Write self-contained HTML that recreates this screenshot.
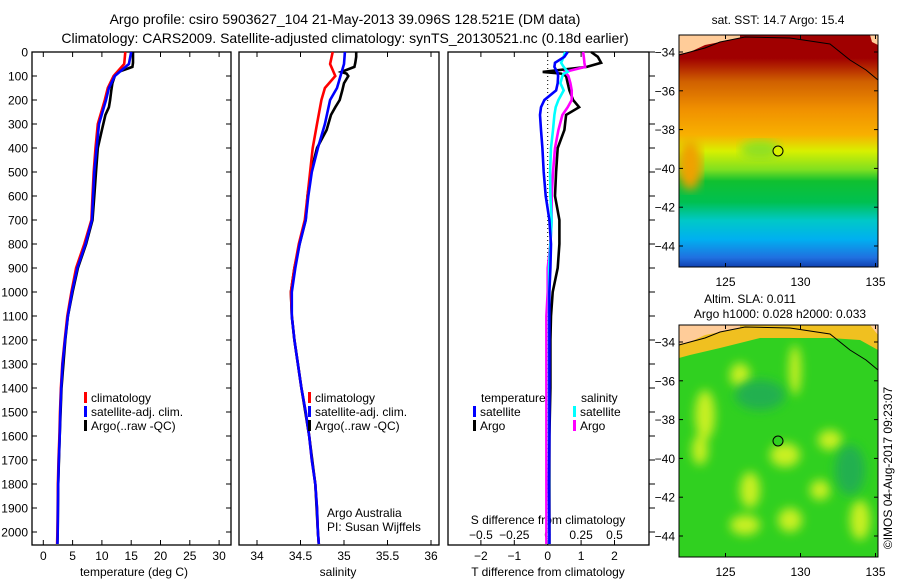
<!DOCTYPE html>
<html><head><meta charset="utf-8">
<style>
html,body{margin:0;padding:0;background:#fff;}
svg{display:block;font-family:"Liberation Sans","DejaVu Sans",sans-serif;}
</style></head>
<body>
<svg id="fig" width="900" height="580" viewBox="0 0 900 580" xmlns="http://www.w3.org/2000/svg">
<defs>
<linearGradient id="sstGrad" x1="0" y1="0" x2="0" y2="1">
<stop offset="0" stop-color="#a00000"/><stop offset="0.1" stop-color="#a00000"/>
<stop offset="0.2" stop-color="#d06000"/><stop offset="0.32" stop-color="#f09000"/>
<stop offset="0.43" stop-color="#f8b000"/><stop offset="0.5" stop-color="#d8f000"/>
<stop offset="0.58" stop-color="#80e020"/><stop offset="0.63" stop-color="#10c030"/>
<stop offset="0.72" stop-color="#00c050"/><stop offset="0.8" stop-color="#00c8c8"/>
<stop offset="0.88" stop-color="#00b0f0"/><stop offset="0.96" stop-color="#2070e0"/>
<stop offset="1" stop-color="#1040b0"/>
</linearGradient>
<filter id="blur"><feGaussianBlur stdDeviation="5"/></filter>
<clipPath id="clipA"><rect x="679" y="35" width="199" height="232"/></clipPath>
<clipPath id="clipB"><rect x="679" y="325" width="199" height="232"/></clipPath>
</defs>

<text x="345" y="24" font-size="14" text-anchor="middle">Argo profile: csiro 5903627_104 21-May-2013 39.096S 128.521E (DM data)</text>
<text x="345" y="43" font-size="14" text-anchor="middle">Climatology: CARS2009. Satellite-adjusted climatology: synTS_20130521.nc (0.18d earlier)</text>

<g>
<text x="778" y="24" font-size="12" text-anchor="middle">sat. SST: 14.7 Argo: 15.4</text>
<g clip-path="url(#clipA)">
<rect x="679" y="35" width="199" height="232" fill="url(#sstGrad)"/>
<ellipse cx="690" cy="165" rx="12" ry="25" fill="#f0a000" filter="url(#blur)"/>
<ellipse cx="760" cy="150" rx="20" ry="10" fill="#90e020" filter="url(#blur)"/>
<path d="M679,35 L740,35 L740,38 L705,45 L690,52 L679,54 Z" fill="#ffcc99"/>
<path d="M870,35 L878,35 L878,45 L872,42 Z" fill="#ffcc99"/>
<path d="M679,55 L690,52 L705,48 L720,42 L745,37 L790,38 L830,44 L850,60 L866,70 L878,80" fill="none" stroke="#000" stroke-width="1"/>
</g>
<rect x="679" y="35" width="199" height="232" fill="none" stroke="#000"/>
<circle cx="778" cy="151" r="5" fill="#d8f000" stroke="#000"/>
</g>

<g>
<text x="750" y="303" font-size="12" text-anchor="middle">Altim. SLA: 0.011</text>
<text x="780" y="318" font-size="12" text-anchor="middle">Argo h1000: 0.028 h2000: 0.033</text>
<g clip-path="url(#clipB)">
<rect x="679" y="325" width="199" height="232" fill="#30d020"/>
<g filter="url(#blur)" fill="#c8f020">
<ellipse cx="740" cy="375" rx="10" ry="12"/><ellipse cx="705" cy="415" rx="10" ry="25"/>
<ellipse cx="700" cy="450" rx="8" ry="15"/><ellipse cx="785" cy="455" rx="15" ry="12"/>
<ellipse cx="830" cy="440" rx="12" ry="10"/><ellipse cx="750" cy="490" rx="10" ry="18"/>
<ellipse cx="820" cy="490" rx="10" ry="10"/><ellipse cx="790" cy="520" rx="12" ry="12"/>
<ellipse cx="745" cy="525" rx="15" ry="10"/><ellipse cx="860" cy="520" rx="10" ry="20"/>
<ellipse cx="795" cy="370" rx="6" ry="25"/>
</g>
<g filter="url(#blur)" fill="#20b050"><ellipse cx="760" cy="395" rx="25" ry="15"/><ellipse cx="850" cy="470" rx="15" ry="25"/></g>
<path d="M679,325 L878,325 L878,350 L860,340 L830,338 L760,338 L720,348 L690,355 L679,358 Z" fill="#f0c020"/>
<path d="M679,325 L740,325 L740,328 L705,335 L690,342 L679,344 Z" fill="#ffcc99"/>
<path d="M870,325 L878,325 L878,335 Z" fill="#ffcc99"/>
<path d="M679,345 L690,342 L705,338 L720,332 L745,327 L790,328 L830,334 L850,350 L866,360 L878,370" fill="none" stroke="#000" stroke-width="1"/>
</g>
<rect x="679" y="325" width="199" height="232" fill="none" stroke="#000"/>
<circle cx="778" cy="441" r="5" fill="#30d020" stroke="#000"/>
</g>
<text x="0" y="0" font-size="12" text-anchor="middle" transform="translate(892,468) rotate(-90)">©IMOS 04-Aug-2017 09:23:07</text>

<g id="plots"></g>
</svg>
<script>
// ---- data ----
const climDepths = [0,50,100,150,200,300,400,500,600,700,800,900,1000,1100,1200,1300,1400,1500,1600,1700,1800,1900,2000,2050];
const climT = [14.0,13.8,12.0,11.0,10.5,9.3,8.9,8.6,8.4,8.2,7.0,5.6,4.8,4.1,3.65,3.25,3.0,2.85,2.75,2.6,2.5,2.45,2.4,2.35];
const satT = [15.0,14.6,12.2,11.2,10.7,9.5,9.1,8.7,8.5,8.3,7.2,5.8,4.9,4.2,3.7,3.3,3.05,2.9,2.8,2.65,2.55,2.5,2.45,2.4];
const climS = [34.87,34.84,34.9,34.78,34.74,34.69,34.64,34.61,34.58,34.55,34.48,34.43,34.39,34.40,34.43,34.47,34.51,34.56,34.60,34.63,34.67,34.69,34.70,34.71];
const satS = [35.01,35.0,34.96,34.92,34.84,34.78,34.70,34.63,34.59,34.56,34.49,34.44,34.40,34.40,34.43,34.47,34.51,34.56,34.60,34.63,34.67,34.69,34.70,34.71];
const argoDepths = [0,20,45,62,83,90,100,130,160,200,230,262,325,400,500,600,700,800,900,1000,1100,1200,1400,1600,1800,2000,2050];
const argoT = [15.3,15.3,15.3,15.2,12.8,12.4,12.2,11.8,11.6,11.4,11.2,10.6,10.0,9.3,9.0,8.7,8.4,7.3,5.9,5.0,4.2,3.75,3.1,2.8,2.55,2.45,2.4];
const argoS = [35.14,35.14,35.13,35.12,34.97,35.03,35.05,35.0,34.98,34.95,34.9,34.85,34.8,34.69,34.62,34.58,34.56,34.49,34.43,34.39,34.40,34.43,34.51,34.6,34.67,34.70,34.71];
const dTsat = [0.6,0.5,0.22,0.2,0.28,0.3,0.31,0.3,0.25,-0.1,-0.2,-0.23,-0.2,-0.16,-0.12,-0.06,0.05,0.1,0.08,0.05,0.05,0.05,0.05,0.05,0.04,0.05,0.05];
const dTargo = [1.3,1.5,1.6,1.17,-0.15,0.4,0.55,0.6,0.65,0.76,0.94,0.55,0.5,0.3,0.25,0.22,0.35,0.35,0.3,0.15,0.1,0.08,0.08,0.05,0.05,0.05,0.05];
const dSsat = [0.13,0.12,0.1,0.12,0.15,0.12,0.11,0.095,0.12,0.08,0.06,0.05,0.04,0.025,0.018,0.02,0.03,0.02,0.01,0.01,0.01,0.01,0.01,0.01,0.01,0.01,0.01];
const dSargo = [0.265,0.27,0.275,0.28,0.13,0.14,0.155,0.17,0.18,0.18,0.15,0.11,0.08,0.055,0.04,0.03,0.03,0.02,0.0,0.0,-0.01,-0.01,-0.01,-0.01,-0.01,-0.01,-0.01];
const depthTicks = [0,100,200,300,400,500,600,700,800,900,1000,1100,1200,1300,1400,1500,1600,1700,1800,1900,2000];
const tempTicks = [0,5,10,15,20,25,30];
const salTicks = [34,34.5,35,35.5,36];
const salTickLabels = ["34","34.5","35","35.5","36"];
const dTTicks = [-2,-1,0,1,2];
const dSTicks = [-0.5,-0.25,0,0.25,0.5];
const dSTickLabels = ["-0.5","-0.25","0","0.25","0.5"];

// ---- axes ----
const NS='http://www.w3.org/2000/svg';
const Y0=52, Y1=545;
const yD = d => 52 + d*0.24;
const xT = t => 43.3 + t*5.86;
const xS = s => 257 + (s-34)*87;
const xDT = v => 547.7 + v*33.4;
const xDS = v => 547.7 + v*133.6;
const root=document.getElementById('plots');
function mk(tag, attrs, parent){const e=document.createElementNS(NS,tag);for(const k in attrs)e.setAttribute(k,attrs[k]);(parent||root).appendChild(e);return e;}
function txt(s,x,y,size,anchor,name){const e=mk('text',{x:x,y:y,'font-size':size,'text-anchor':anchor||'start'});e.textContent=s;


return e;}
function line(depths, vals, fx, color, name){
  const pts=depths.map((d,i)=>fx(vals[i]).toFixed(1)+','+yD(d).toFixed(1)).join(' ');
  const e=mk('polyline',{points:pts,fill:'none',stroke:color,'stroke-width':2.6,'stroke-linejoin':'miter'});
  
  
}
function frame(x0,x1,name){
  const r=mk('rect',{x:x0,y:Y0,width:x1-x0,height:Y1-Y0,fill:'none',stroke:'#000','stroke-width':1.3});
  
  
}
// panel frames
frame(32,231,'temperature-panel');
frame(239,439,'salinity-panel');
frame(448,649,'difference-panel');
// depth ticks
depthTicks.forEach(d=>{
  const y=yD(d);
  mk('line',{x1:32,x2:37,y1:y,y2:y,stroke:'#000'});
  mk('line',{x1:226,x2:231,y1:y,y2:y,stroke:'#000'});
  mk('line',{x1:649,x2:655,y1:y,y2:y,stroke:'#000'});
  txt(String(d),28,y+4.5,12,'end','depth-tick-label');
});
// temp ticks
tempTicks.forEach(t=>{
  const x=xT(t);
  mk('line',{x1:x,x2:x,y1:Y0,y2:Y0+5,stroke:'#000'});
  mk('line',{x1:x,x2:x,y1:Y1,y2:Y1-5,stroke:'#000'});
  txt(String(t),x,560,12,'middle','temperature-tick-label');
});
txt('temperature (deg C)',134,576,12,'middle','temperature-axis-title');
salTicks.forEach((s,i)=>{
  const x=xS(s);
  mk('line',{x1:x,x2:x,y1:Y0,y2:Y0+5,stroke:'#000'});
  mk('line',{x1:x,x2:x,y1:Y1,y2:Y1-5,stroke:'#000'});
  txt(salTickLabels[i],x,560,12,'middle','salinity-tick-label');
});
txt('salinity',338,576,12,'middle','salinity-axis-title');
dTTicks.forEach(v=>{
  const x=xDT(v);
  mk('line',{x1:x,x2:x,y1:Y0,y2:Y0+5,stroke:'#000'});
  mk('line',{x1:x,x2:x,y1:Y1,y2:Y1-5,stroke:'#000'});
  txt(String(v).replace('-','\u2212'),x,560,12,'middle','t-difference-tick-label');
});
dSTicks.forEach((v,i)=>{
  const x=xDS(v);
  txt(dSTickLabels[i].replace('-','\u2212'),x,539,12,'middle','s-difference-tick-label');
});
txt('S difference from climatology',548,524,12,'middle','s-difference-axis-title');
txt('T difference from climatology',548,576,12,'middle','t-difference-axis-title');
// zero dotted line
const z=mk('line',{x1:xDT(0),x2:xDT(0),y1:Y0,y2:Y1,stroke:'#000','stroke-dasharray':'1,3'});


// series
line(argoDepths,argoT,xT,'#000','temperature-argo-line');
line(climDepths,climT,xT,'#ff0000','temperature-climatology-line');
line(climDepths,satT,xT,'#0000ff','temperature-satellite-line');
line(argoDepths,argoS,xS,'#000','salinity-argo-line');
line(climDepths,climS,xS,'#ff0000','salinity-climatology-line');
line(climDepths,satS,xS,'#0000ff','salinity-satellite-line');
line(argoDepths,dTargo,xDT,'#000','t-diff-argo-line');
line(argoDepths,dSargo,xDS,'#ff00ff','s-diff-argo-line');
line(argoDepths,dSsat,xDS,'#00ffff','s-diff-satellite-line');
line(argoDepths,dTsat,xDT,'#0000ff','t-diff-satellite-line');
// legends
function legend(x,y,color,label,name){
  const m=mk('rect',{x:x,y:y-10,width:3,height:11,fill:color});
  
  
  txt(label,x+7,y,12,'start',name);
}
[[32+52,0],[239+69,1]].forEach(([lx,k])=>{
  legend(lx,402,'#ff0000','climatology','legend-climatology');
  legend(lx,416,'#0000ff','satellite-adj. clim.','legend-satellite-adj');
  legend(lx,430,'#000','Argo(..raw -QC)','legend-argo');
});
txt('temperature',481,402,12,'start','legend-temperature-header');
txt('salinity',581,402,12,'start','legend-salinity-header');
legend(473,416,'#0000ff','satellite','legend-t-satellite');
legend(473,430,'#000','Argo','legend-t-argo');
legend(573,416,'#00ffff','satellite','legend-s-satellite');
legend(573,430,'#ff00ff','Argo','legend-s-argo');
txt('Argo Australia',327,517,12,'start','credit-argo-australia');
txt('PI: Susan Wijffels',327,531,12,'start','credit-pi');
// map axes
function mapAxes(top,bottom,labY,name){
  [-34,-36,-38,-40,-42,-44].forEach(l=>{
    const y=top+17+(-34-l)*19.4;
    mk('line',{x1:679,x2:683,y1:y,y2:y,stroke:'#000'});
    mk('line',{x1:874,x2:878,y1:y,y2:y,stroke:'#000'});
    txt(String(l).replace('-','\u2212'),675,y+4.5,12,'end',name+'-lat-label');
  });
  [125,130,135].forEach(l=>{
    const x=679+(l-121.9)*15;
    mk('line',{x1:x,x2:x,y1:top,y2:top+4,stroke:'#000'});
    mk('line',{x1:x,x2:x,y1:bottom,y2:bottom-4,stroke:'#000'});
    txt(String(l),x,labY,12,'middle',name+'-lon-label');
  });
}
mapAxes(35,267,286,'sst-map');
mapAxes(325,557,576,'sla-map');
</script>
</body></html>
